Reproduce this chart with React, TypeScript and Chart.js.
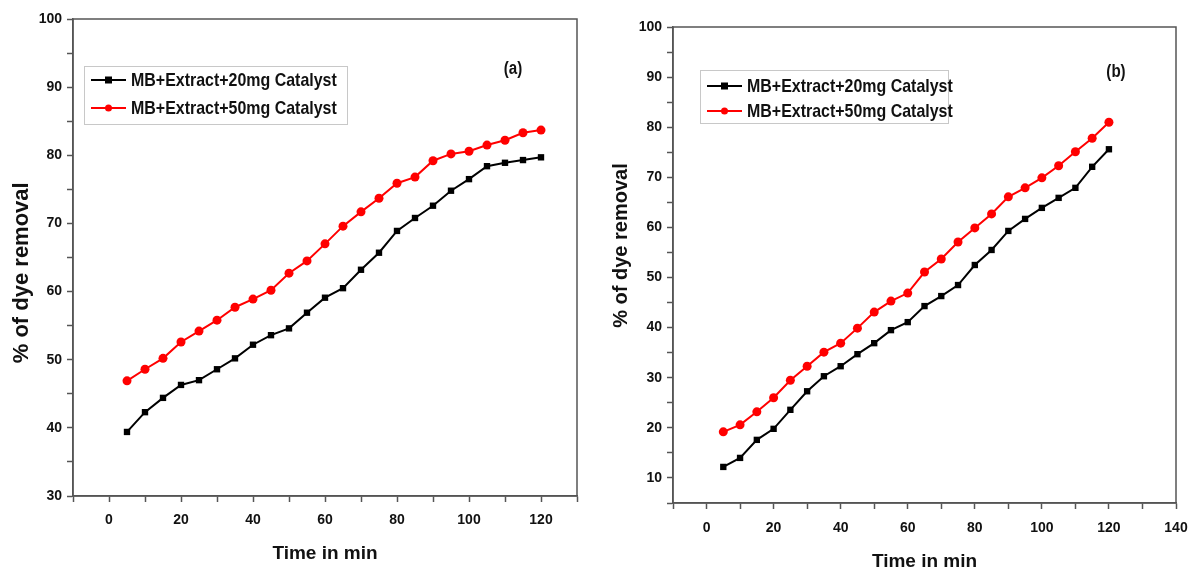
import React, { useEffect, useRef } from 'react';
import { Chart, registerables } from 'chart.js';

Chart.register(...registerables);

// ---------- data ----------
const timeMin = [5, 10, 15, 20, 25, 30, 35, 40, 45, 50, 55, 60, 65, 70, 75, 80, 85, 90, 95, 100, 105, 110, 115, 120];
const seriesLabels = ['MB+Extract+20mg Catalyst', 'MB+Extract+50mg Catalyst'];
const panelA20mg = [39.4, 42.3, 44.4, 46.3, 47.0, 48.6, 50.2, 52.2, 53.6, 54.6, 56.9, 59.1, 60.5, 63.2, 65.7, 68.9, 70.8, 72.6, 74.8, 76.5, 78.4, 78.9, 79.3, 79.7];
const panelA50mg = [46.9, 48.6, 50.2, 52.6, 54.2, 55.8, 57.7, 58.9, 60.2, 62.7, 64.5, 67.0, 69.6, 71.7, 73.7, 75.9, 76.8, 79.2, 80.2, 80.6, 81.5, 82.2, 83.3, 83.7];
const panelB20mg = [12.2, 14.0, 17.6, 19.8, 23.6, 27.3, 30.3, 32.3, 34.7, 36.9, 39.5, 41.1, 44.3, 46.3, 48.5, 52.5, 55.5, 59.3, 61.7, 63.9, 65.9, 67.9, 72.1, 75.6];
const panelB50mg = [19.2, 20.6, 23.2, 26.0, 29.5, 32.3, 35.1, 36.9, 39.9, 43.1, 45.3, 46.9, 51.1, 53.7, 57.1, 59.9, 62.7, 66.1, 67.9, 69.9, 72.3, 75.1, 77.8, 81.0];
const xTitle = 'Time in min';
const yTitle = '% of dye removal';
const panelTags = ['(a)', '(b)'];
const seriesColors = ['#000000', '#ff0000'];
const seriesMarkers = ['rect', 'circle'];

const FONT = "'Liberation Sans', Arial, sans-serif";
const AXIS = '#555555';
const INK = '#111111';

type PanelCfg = {
  left: number;
  width: number;
  height: number;
  area: { l: number; r: number; t: number; b: number };
  xMin: number;
  xMax: number;
  xLabelMax: number;
  yMin: number;
  yMax: number;
  values: number[][];
  tag: string;
  tagPos: { x: number; y: number };
  legendBox: { x: number; y: number; w: number; h: number; rows: number[] };
  yTitleText: string;
  yTitleSize: number;
  xTitlePadBottom: number;
  xTickPad: number;
};

const panels: PanelCfg[] = [
  {
    left: 0,
    width: 600,
    height: 574,
    area: { l: 73, r: 577, t: 19, b: 496 },
    xMin: -10,
    xMax: 130,
    xLabelMax: 120,
    yMin: 30,
    yMax: 100,
    values: [panelA20mg, panelA50mg],
    tag: panelTags[0],
    tagPos: { x: 513, y: 69 },
    legendBox: { x: 84, y: 66, w: 263, h: 58, rows: [80, 108] },
    yTitleText: yTitle + '     ',
    yTitleSize: 22,
    xTitlePadBottom: 9,
    xTickPad: 10,
  },
  {
    left: 600,
    width: 591,
    height: 574,
    area: { l: 73, r: 576, t: 27, b: 503 },
    xMin: -10,
    xMax: 140,
    xLabelMax: 140,
    yMin: 5,
    yMax: 100,
    values: [panelB20mg, panelB50mg],
    tag: panelTags[1],
    tagPos: { x: 516, y: 72 },
    legendBox: { x: 100, y: 70, w: 248, h: 53, rows: [86, 111] },
    yTitleText: '       ' + yTitle,
    yTitleSize: 20,
    xTitlePadBottom: 1,
    xTickPad: 11,
  },
];

function drawMarker(ctx: CanvasRenderingContext2D, style: string, x: number, y: number, r: number, color: string) {
  ctx.save();
  ctx.fillStyle = color;
  if (style === 'rect') {
    ctx.fillRect(x - r, y - r, 2 * r, 2 * r);
  } else {
    ctx.beginPath();
    ctx.arc(x, y, r, 0, Math.PI * 2);
    ctx.fill();
  }
  ctx.restore();
}

// draws bold text squeezed horizontally to look like a narrow face
function drawNarrow(ctx: CanvasRenderingContext2D, text: string, x: number, y: number, size: number, squeeze: number, align: CanvasTextAlign) {
  ctx.save();
  ctx.translate(x, y);
  ctx.scale(squeeze, 1);
  ctx.font = `bold ${size}px ${FONT}`;
  ctx.fillStyle = INK;
  ctx.textAlign = align;
  ctx.textBaseline = 'middle';
  ctx.fillText(text, 0, 0);
  ctx.restore();
}

function makeChart(canvas: HTMLCanvasElement, p: PanelCfg) {
  const boxPlugin = {
    id: 'boxAndLegend',
    afterDatasetsDraw(chart: any) {
      const ctx: CanvasRenderingContext2D = chart.ctx;
      const ca = chart.chartArea;
      ctx.save();
      // frame
      ctx.strokeStyle = AXIS;
      ctx.lineWidth = 1.5;
      ctx.strokeRect(ca.left, ca.top, ca.right - ca.left, ca.bottom - ca.top);
      // legend box
      const lb = p.legendBox;
      ctx.fillStyle = '#ffffff';
      ctx.fillRect(lb.x, lb.y, lb.w, lb.h);
      ctx.strokeStyle = '#c8c8c8';
      ctx.lineWidth = 1;
      ctx.strokeRect(lb.x + 0.5, lb.y + 0.5, lb.w, lb.h);
      chart.data.datasets.forEach((ds: any, i: number) => {
        const y = lb.rows[i];
        const x0 = lb.x + 7;
        const x1 = lb.x + 42;
        ctx.strokeStyle = ds.borderColor;
        ctx.lineWidth = 2;
        ctx.beginPath();
        ctx.moveTo(x0, y);
        ctx.lineTo(x1, y);
        ctx.stroke();
        drawMarker(ctx, ds.pointStyle, (x0 + x1) / 2, y, 3.5, ds.borderColor);
        drawNarrow(ctx, ds.label, x1 + 5, y + 1, 19, 0.84, 'left');
      });
      // panel tag
      drawNarrow(ctx, p.tag, p.tagPos.x, p.tagPos.y, 18, 0.84, 'center');
      ctx.restore();
    },
  };

  const datasets = p.values.map((vals, i) => ({
    label: seriesLabels[i],
    data: timeMin.map((t, j) => ({ x: t, y: vals[j] })),
    borderColor: seriesColors[i],
    backgroundColor: seriesColors[i],
    pointStyle: seriesMarkers[i],
    pointRadius: 4.5,
    pointHoverRadius: 4.5,
    pointBorderWidth: 0,
    borderWidth: 2,
    showLine: true,
    tension: 0,
  }));

  return new Chart(canvas, {
    type: 'scatter',
    data: { datasets },
    plugins: [boxPlugin],
    options: {
      responsive: false,
      animation: false,
      devicePixelRatio: 1,
      layout: {
        padding: { left: 0, top: p.area.t, right: p.width - p.area.r, bottom: 0 },
      },
      plugins: {
        legend: { display: false },
        tooltip: { enabled: false },
        title: { display: false },
      },
      scales: {
        x: {
          type: 'linear',
          min: p.xMin,
          max: p.xMax,
          afterFit: (scale: any) => {
            scale.height = p.height - p.area.b;
            scale.paddingLeft = 0;
            scale.paddingRight = 0;
          },
          ticks: {
            stepSize: 10,
            autoSkip: false,
            maxRotation: 0,
            padding: p.xTickPad,
            color: INK,
            font: { family: FONT, size: 14, weight: 'bold' },
            callback: (v: any) => {
              const n = Number(v);
              return n % 20 === 0 && n >= 0 && n <= p.xLabelMax ? String(n) : '';
            },
          },
          grid: {
            drawOnChartArea: false,
            drawTicks: true,
            tickLength: 6,
            tickWidth: 1.5,
            tickColor: AXIS,
          },
          border: { display: true, color: AXIS, width: 1.5 },
          title: {
            display: true,
            text: xTitle,
            color: INK,
            font: { family: FONT, size: 19, weight: 'bold', lineHeight: 1.2 },
            padding: { top: 0, bottom: p.xTitlePadBottom },
          },
        },
        y: {
          type: 'linear',
          min: p.yMin,
          max: p.yMax,
          afterFit: (scale: any) => {
            scale.width = p.area.l;
            scale.paddingTop = 0;
            scale.paddingBottom = 0;
          },
          ticks: {
            stepSize: 5,
            autoSkip: false,
            padding: 5,
            color: INK,
            font: { family: FONT, size: 14, weight: 'bold' },
            callback: (v: any) => {
              const n = Number(v);
              return n % 10 === 0 ? String(n) : '';
            },
          },
          grid: {
            drawOnChartArea: false,
            drawTicks: true,
            tickLength: 6,
            tickWidth: 1.5,
            tickColor: AXIS,
          },
          border: { display: true, color: AXIS, width: 1.5 },
          title: {
            display: true,
            text: p.yTitleText,
            color: INK,
            font: { family: FONT, size: p.yTitleSize, weight: 'bold', lineHeight: 1.2 },
            padding: { top: 9, bottom: 0 },
          },
        },
      },
    } as any,
  });
}

function Panel({ cfg }: { cfg: PanelCfg }) {
  const ref = useRef<HTMLCanvasElement | null>(null);
  useEffect(() => {
    if (!ref.current) return;
    const chart = makeChart(ref.current, cfg);
    return () => chart.destroy();
  }, [cfg]);
  return (
    <canvas
      ref={ref}
      width={cfg.width}
      height={cfg.height}
      style={{ position: 'absolute', left: cfg.left, top: 0, width: cfg.width, height: cfg.height }}
    />
  );
}

export default function App() {
  return (
    <div
      style={{
        position: 'fixed',
        left: 0,
        top: 0,
        width: 1191,
        height: 574,
        background: '#ffffff',
        overflow: 'hidden',
      }}
    >
      {panels.map((p, i) => (
        <Panel key={i} cfg={p} />
      ))}
    </div>
  );
}
